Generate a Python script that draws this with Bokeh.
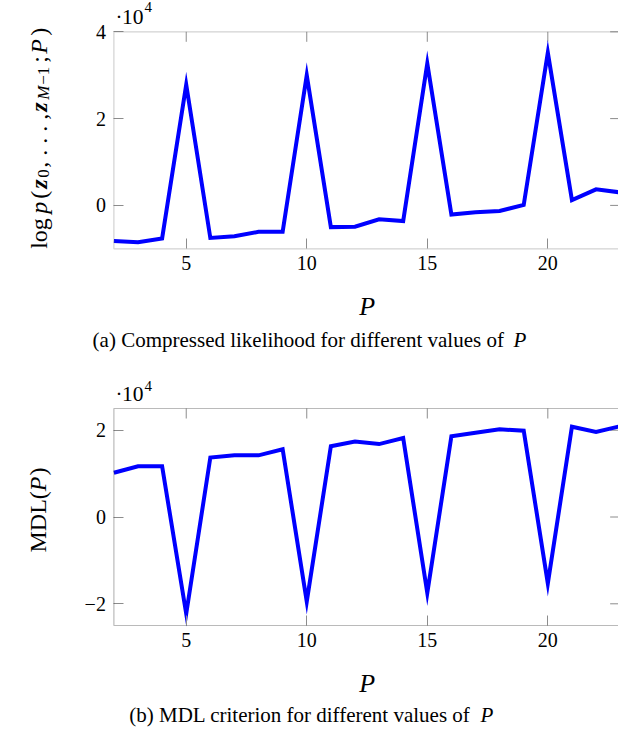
import math
from bokeh.plotting import figure
from bokeh.layouts import column
from bokeh.models import Label, FixedTicker, Range1d, BoxAnnotation
from bokeh.embed import file_html
from bokeh.resources import INLINE

# ---------------- data ----------------
P = [2, 3, 4, 5, 6, 7, 8, 9, 10, 11, 12, 13, 14, 15, 16, 17, 18, 19, 20, 21, 22, 23]
# compressed log-likelihood, in units of 10^4
loglik = [-0.82, -0.85, -0.76, 2.78, -0.75, -0.71, -0.61, -0.61, 3.00, -0.50, -0.49,
          -0.32, -0.36, 3.27, -0.21, -0.16, -0.13, 0.01, 3.52, 0.12, 0.37, 0.30]
# MDL criterion, in units of 10^4
mdl = [1.02, 1.17, 1.17, -2.23, 1.37, 1.42, 1.42, 1.56, -1.95, 1.63, 1.74,
       1.68, 1.82, -1.75, 1.86, 1.94, 2.02, 1.99, -1.53, 2.08, 1.96, 2.09]

x_ticks = [5, 10, 15, 20]
top_y_ticks = [0, 2, 4]
bot_y_ticks = [-2, 0, 2]
bot_y_tick_labels = {-2: "\u22122", 0: "0", 2: "2"}

caption_a = "(a) Compressed likelihood for different values of"
caption_b = "(b) MDL criterion for different values of"

# axis limits of the two panels (as in the original plot)
X_MIN, X_MAX = 2, 23
TOP_Y = (-1, 4)
BOT_Y = (-2.5, 2.5)

FONT = "Liberation Serif"
TICK_COLOR = "#8c8c8c"
PX_X = 24.107           # pixels per unit in x
W = 618


def style_axis(ax, ticks, loc, bounds, standoff):
    ax.fixed_location = loc
    ax.bounds = bounds
    ax.ticker = FixedTicker(ticks=ticks, minor_ticks=[])
    ax.major_tick_in = 10
    ax.major_tick_out = 0
    ax.minor_tick_in = 0
    ax.minor_tick_out = 0
    ax.major_tick_line_color = TICK_COLOR
    ax.major_tick_line_width = 1
    ax.axis_line_color = None
    ax.major_label_text_font = FONT
    ax.major_label_text_font_size = "20px"
    ax.major_label_text_color = "black"
    ax.major_label_standoff = standoff


def make_fig(height, fx0, fy0, yr, yticks, frame_color):
    py = 217.0 / (yr[1] - yr[0])
    xr = (X_MIN - fx0 / PX_X, X_MIN + (W - fx0) / PX_X)
    yrange = (yr[0] - fy0 / py, yr[0] + (height - fy0) / py)
    p = figure(width=W, height=height, x_range=Range1d(*xr), y_range=Range1d(*yrange),
               output_backend="svg", toolbar_location=None, min_border=0)
    p.title.visible = False
    p.outline_line_color = None
    p.xgrid.visible = False
    p.ygrid.visible = False
    style_axis(p.xaxis[0], x_ticks, yr[0], (X_MIN, X_MAX), 7)
    style_axis(p.yaxis[0], yticks, X_MIN, yr, 8)
    # plot frame
    p.add_layout(BoxAnnotation(left=X_MIN, right=X_MAX, bottom=yr[0], top=yr[1],
                               fill_color=None, line_color=frame_color, line_width=1.2))
    # ticks on the top and right edges
    p.ray(x=x_ticks, y=[yr[1]] * len(x_ticks), length=10, length_units="screen",
          angle=-math.pi / 2, line_color=TICK_COLOR, line_width=1)
    p.ray(x=[X_MAX] * len(yticks), y=yticks, length=10, length_units="screen",
          angle=math.pi, line_color=TICK_COLOR, line_width=1)
    return p


def lab(p, org, x, y, text, size, style="normal", angle=0.0, align="left"):
    if angle == 0.0:
        y += 7
    else:
        x -= 4
    p.add_layout(Label(x=org[0] + x, y=org[1] + y, x_units="screen", y_units="screen",
                       text=text, text_font=FONT, text_font_size=f"{size}px",
                       text_font_style=style, angle=angle, text_align=align,
                       text_baseline="alphabetic", text_color="black"))


A = math.pi / 2

# ---------------- top plot ----------------
o1 = (113.4, 111.7)
p1 = make_fig(360, o1[0], o1[1], TOP_Y, top_y_ticks, "#6a6a6a")
p1.line(P, loglik, line_color="#0000ff", line_width=4, line_join="miter")

bx, sx = -71, -66
lab(p1, o1, bx, 0, "log", 24, angle=A)
lab(p1, o1, bx, 35, "p", 24, "italic", A)
lab(p1, o1, bx, 50, "(", 24, angle=A)
lab(p1, o1, bx, 60, "z", 24, "bold italic", A)
lab(p1, o1, sx, 71, "0", 17, angle=A)
lab(p1, o1, bx, 81, ", . . . ,", 24, angle=A)
lab(p1, o1, bx, 137, "z", 24, "bold italic", A)
lab(p1, o1, sx, 149, "M", 17, "italic", A)
lab(p1, o1, sx, 164, "\u22121", 17, angle=A)
lab(p1, o1, bx, 186, ";", 24, angle=A)
lab(p1, o1, bx, 195, "P", 24, "italic", A)
lab(p1, o1, bx, 213, ")", 24, angle=A)

lab(p1, o1, 1.7, 225, "\u00b7", 21)
lab(p1, o1, 8.0, 225, "10", 21.5)
lab(p1, o1, 30.5, 235, "4", 15)

lab(p1, o1, 253.2, -64.7, "P", 26, "italic", align="center")

lab(p1, o1, 390, -98.4, caption_a, 21, align="right")
lab(p1, o1, 399.7, -98.4, "P", 21, "italic")

# ---------------- bottom plot ----------------
o2 = (113.4, 107.0)
p2 = make_fig(372, o2[0], o2[1], BOT_Y, bot_y_ticks, "#1a1a1a")
p2.yaxis[0].major_label_overrides = bot_y_tick_labels
p2.line(P, mdl, line_color="#0000ff", line_width=4, line_join="miter")

lab(p2, o2, -71.6, 73, "MDL(", 24, angle=A)
lab(p2, o2, -71.6, 134.3, "P", 24, "italic", A)
lab(p2, o2, -71.6, 150, ")", 24, angle=A)

lab(p2, o2, 1.7, 224.3, "\u00b7", 21)
lab(p2, o2, 8.0, 224.3, "10", 21.5)
lab(p2, o2, 30.5, 232.3, "4", 15)

lab(p2, o2, 253.2, -65, "P", 26, "italic", align="center")

lab(p2, o2, 356.7, -96.7, caption_b, 21, align="right")
lab(p2, o2, 366.7, -96.7, "P", 21, "italic")

layout = column(p1, p2, spacing=0)
open("out.html", "w").write(file_html(layout, INLINE))
